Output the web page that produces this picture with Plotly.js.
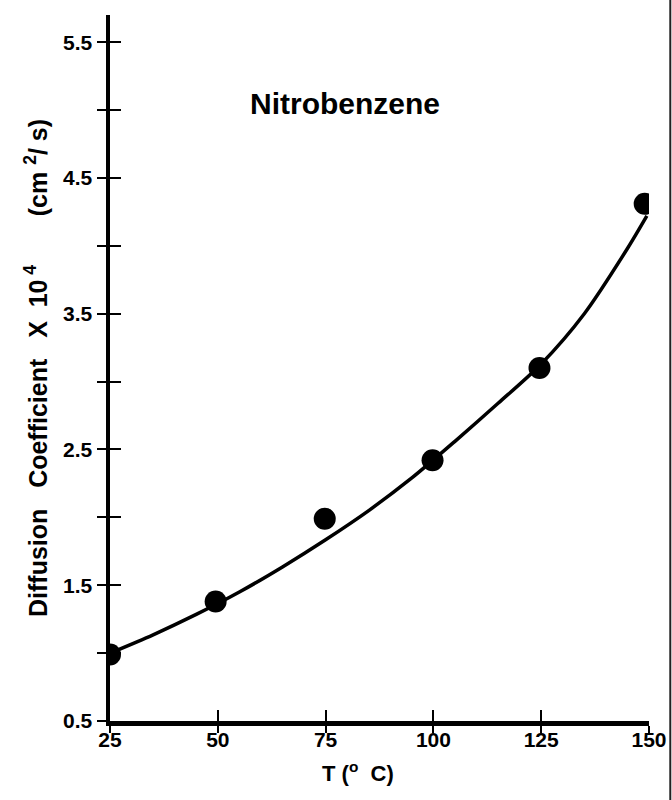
<!DOCTYPE html>
<html>
<head>
<meta charset="utf-8">
<script src="https://cdn.plot.ly/plotly-3.0.1.min.js"></script>
<style>html,body{margin:0;padding:0;background:#fff;}#chart{width:672px;height:800px;}</style>
</head>
<body>
<div id="chart"></div>
<script>
// Measured points
const tempPoints = [25, 49.5, 74.8, 99.8, 124.6, 149];
const diffPoints = [0.99, 1.38, 1.99, 2.42, 3.10, 4.31];
// Fitted curve
const curveT = [25, 35, 45, 55, 65, 75, 85, 95, 105, 115, 125, 135, 145, 149.5];
const curveD = [1.00, 1.135, 1.285, 1.45, 1.635, 1.835, 2.05, 2.29, 2.56, 2.84, 3.13, 3.50, 3.98, 4.22];
// Axis ticks
const xTickVals = [25, 50, 75, 100, 125, 150];
const xTickText = ['25', '50', '75', '100', '125', '150'];
const yTickVals = [0.5, 1.5, 2.5, 3.5, 4.5, 5.5];
const yTickText = ['0.5', '1.5', '2.5', '3.5', '4.5', '5.5'];
const yMinorStep = 0.5;

const FONT = 'Liberation Sans, Arial, sans-serif';
const bold = a => a.map(s => '<b>' + s + '</b>');

const traces = [
  {
    x: curveT, y: curveD, type: 'scatter', mode: 'lines',
    line: {color: '#000', width: 3.5, shape: 'spline', smoothing: 0.8},
    hoverinfo: 'skip', showlegend: false
  },
  {
    x: tempPoints, y: diffPoints, type: 'scatter', mode: 'markers',
    marker: {color: '#000', size: 22, line: {width: 0}},
    showlegend: false
  },
  { x: [25], y: [0.5], xaxis: 'x2', yaxis: 'y2', type: 'scatter', mode: 'markers',
    marker: {opacity: 0}, hoverinfo: 'skip', showlegend: false }
];

const layout = {
  width: 672, height: 800,
  margin: {l: 110, r: 23, t: 15, b: 79},
  paper_bgcolor: '#fff', plot_bgcolor: '#fff',
  showlegend: false,
  font: {family: FONT, color: '#000', weight: 'bold'},
  xaxis: {
    range: [25, 150], showgrid: false, zeroline: false,
    showline: true, linecolor: '#000', linewidth: 4.5,
    ticks: 'outside', ticklen: 7, tickwidth: 2, tickcolor: '#000',
    tickmode: 'array', tickvals: xTickVals, ticktext: bold(xTickText),
    tickfont: {size: 21, family: FONT, weight: 'bold'},
    ticklabelstandoff: -11,
    anchor: 'y'
  },
  yaxis: {
    range: [0.5, 5.7], showgrid: false, zeroline: false,
    showline: true, linecolor: '#000', linewidth: 4.5,
    ticks: 'outside', ticklen: 9, tickwidth: 2, tickcolor: '#000',
    tickmode: 'array', tickvals: yTickVals, ticktext: bold(yTickText),
    tickfont: {size: 21, family: FONT, weight: 'bold'},
    minor: {tick0: 0, dtick: yMinorStep, ticks: 'outside', ticklen: 9, tickwidth: 2, tickcolor: '#000', showgrid: false},
    title: {text: '<b>Diffusion\u00a0\u00a0\u00a0Coefficient\u00a0\u00a0\u00a0X\u00a0\u00a010<sup>\u00a04</sup>\u00a0\u00a0\u00a0\u00a0\u00a0\u00a0\u00a0(cm\u00a0<sup>2</sup>/\u00a0s)</b>',
            font: {size: 25, family: FONT, weight: 'bold'}, standoff: 10},
    anchor: 'x'
  },
  xaxis2: {
    overlaying: 'x', anchor: 'y2', range: [25, 150], showgrid: false, zeroline: false,
    showline: false, ticks: 'inside', ticklen: 11, tickwidth: 2, tickcolor: '#000',
    tickmode: 'array', tickvals: xTickVals.slice(1), showticklabels: false, side: 'bottom'
  },
  yaxis2: {
    overlaying: 'y', anchor: 'x2', range: [0.5, 5.7], showgrid: false, zeroline: false,
    showline: false, ticks: 'inside', ticklen: 11, tickwidth: 2, tickcolor: '#000',
    tickmode: 'array', tickvals: yTickVals.slice(1), showticklabels: false, side: 'left',
    minor: {tick0: 0, dtick: yMinorStep, ticks: 'inside', ticklen: 11, tickwidth: 2, tickcolor: '#000', showgrid: false}
  },
  annotations: [
    {text: '<b>Nitrobenzene</b>', x: 79.5, y: 5.05, xref: 'x', yref: 'y', showarrow: false,
     font: {size: 30, family: FONT, weight: 'bold', color: '#000'}},
    {text: '<b>T (<sup>o</sup>\u00a0\u00a0C)</b>', x: 0.46, y: -0.072, xref: 'paper', yref: 'paper',
     xanchor: 'center', yanchor: 'middle', showarrow: false,
     font: {size: 22, family: FONT, weight: 'bold', color: '#000'}}
  ],
  shapes: [
    {type: 'line', xref: 'paper', yref: 'paper', x0: 1.0395, x1: 1.0395, y0: -0.12, y1: 1.03,
     line: {color: '#222', width: 2}}
  ]
};

Plotly.newPlot('chart', traces, layout, {staticPlot: true, displayModeBar: false});
</script>
</body>
</html>
